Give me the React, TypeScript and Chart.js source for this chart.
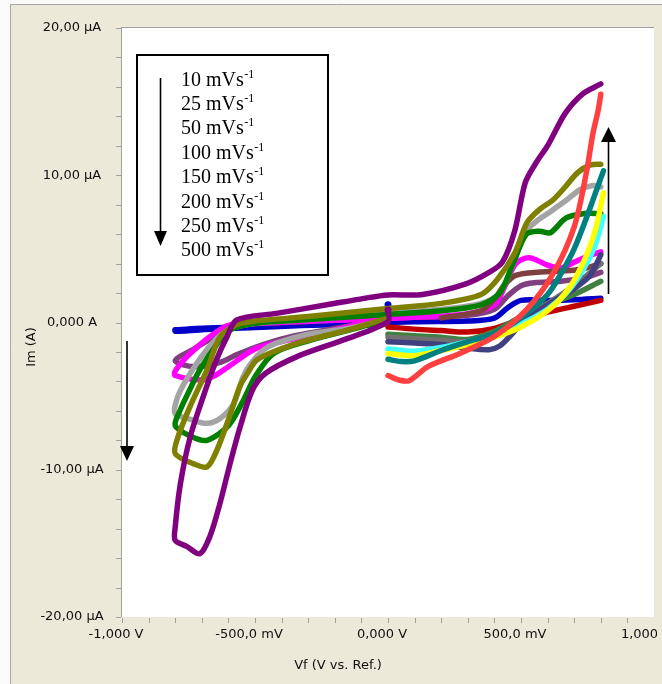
import React, { useEffect, useRef } from 'react';
import { Chart, registerables } from 'chart.js';
Chart.register(...registerables);

// ---- data (potential in V, current in µA) ----
const blueV = [0, 0, -0.2, -0.45, -0.65, -0.8, -0.8, -0.65, -0.45, -0.2, 0.1, 0.3, 0.4, 0.45, 0.5, 0.6, 0.7, 0.8];
const blueI = [1.2, 0.0, -0.15, -0.25, -0.35, -0.5, -0.6, -0.45, -0.3, -0.1, 0.05, 0.1, 0.3, 1.0, 1.5, 1.5, 1.55, 1.65];

const darkRedV = [0, 0.1, 0.2, 0.3, 0.4, 0.5, 0.6, 0.7, 0.8];
const darkRedI = [-0.3, -0.45, -0.55, -0.65, -0.4, 0.2, 0.7, 1.1, 1.5];

const magentaV = [0, -0.2, -0.4, -0.5, -0.6, -0.65, -0.7, -0.8, -0.8, -0.76, -0.7, -0.665, -0.6, -0.5, -0.2, 0.1, 0.3, 0.4, 0.44, 0.48, 0.53, 0.6, 0.65, 0.7, 0.75, 0.8];
const magentaI = [0.4, -0.5, -1.3, -1.8, -3.0, -3.6, -3.9, -3.6, -3.3, -2.4, -1.4, -0.9, -0.2, -0.05, 0.15, 0.35, 0.6, 1.2, 2.5, 4.0, 4.4, 3.9, 3.7, 4.1, 4.5, 4.8];

const mauveV = [0, -0.2, -0.35, -0.47, -0.57, -0.63, -0.73, -0.8, -0.73, -0.635, -0.55, -0.4, 0, 0.3, 0.4, 0.45, 0.5, 0.55, 0.65, 0.75, 0.8];
const mauveI = [0.2, -0.4, -0.9, -1.5, -2.2, -2.7, -3.0, -2.6, -1.8, -0.8, -0.2, 0.0, 0.3, 0.5, 0.9, 1.8, 2.5, 2.7, 2.8, 3.1, 3.4];

const brownV = [0.2, 0.35, 0.4, 0.44, 0.48, 0.55, 0.65, 0.72, 0.8];
const brownI = [0.3, 0.8, 1.6, 2.6, 3.2, 3.4, 3.5, 3.6, 4.0];

const greyV = [0, -0.15, -0.3, -0.42, -0.47, -0.52, -0.545, -0.58, -0.63, -0.68, -0.74, -0.8, -0.8, -0.78, -0.72, -0.66, -0.6, -0.5, -0.3, 0, 0.2, 0.35, 0.42, 0.47, 0.52, 0.56, 0.6, 0.67, 0.72, 0.77, 0.8];
const greyI = [0.2, -0.4, -0.8, -1.4, -1.9, -2.9, -3.7, -5.5, -6.5, -6.85, -6.6, -6.2, -5.6, -4.6, -2.8, -1.4, -0.5, -0.05, 0.2, 0.65, 0.9, 1.3, 2.0, 4.0, 6.2, 6.9, 7.4, 8.3, 9.0, 9.3, 9.2];

const greenV = [0, -0.1, -0.29, -0.43, -0.5, -0.544, -0.6, -0.68, -0.744, -0.8, -0.78, -0.757, -0.707, -0.632, -0.594, -0.5, -0.3, 0, 0.2, 0.35, 0.42, 0.47, 0.52, 0.57, 0.61, 0.67, 0.74, 0.8];
const greenI = [0.25, -0.3, -1.2, -2.1, -3.7, -5.3, -7.0, -8.0, -7.7, -7.0, -5.9, -5.0, -3.2, -1.2, -0.5, -0.05, 0.2, 0.55, 0.8, 1.2, 2.0, 4.0, 6.0, 6.2, 6.1, 7.1, 7.4, 7.4];

const oliveV = [0, -0.17, -0.34, -0.49, -0.53, -0.556, -0.6, -0.644, -0.68, -0.73, -0.8, -0.79, -0.744, -0.68, -0.632, -0.57, -0.5, -0.3, 0, 0.2, 0.35, 0.41, 0.476, 0.523, 0.571, 0.619, 0.666, 0.714, 0.762, 0.8];
const oliveI = [0.3, -0.6, -1.4, -2.5, -3.5, -4.3, -6.6, -8.7, -9.8, -9.6, -8.9, -7.8, -5.7, -3.2, -1.0, -0.15, 0.1, 0.4, 0.95, 1.3, 1.9, 2.9, 4.7, 6.8, 7.7, 8.3, 9.2, 10.2, 10.7, 10.75];

const purpleV = [0, 0, -0.17, -0.34, -0.46, -0.51, -0.556, -0.594, -0.632, -0.669, -0.707, -0.757, -0.8, -0.8, -0.78, -0.744, -0.694, -0.644, -0.606, -0.569, -0.42, -0.23, -0.09, 0, 0.13, 0.29, 0.38, 0.43, 0.476, 0.516, 0.555, 0.603, 0.666, 0.73, 0.8];
const purpleI = [0.85, 0.05, -1.2, -2.3, -3.45, -4.6, -7.1, -9.6, -12.3, -14.5, -15.7, -15.2, -14.8, -13.9, -10.9, -7.8, -5.0, -2.5, -1.0, 0.17, 0.62, 1.2, 1.64, 1.87, 1.9, 2.6, 3.4, 4.1, 6.2, 9.5, 10.8, 12.1, 14.2, 15.5, 16.2];

const darkGreenV = [0, 0.1, 0.2, 0.3, 0.4, 0.5, 0.6, 0.7, 0.8];
const darkGreenI = [-0.8, -0.9, -1.0, -1.15, -0.6, 0.4, 1.2, 1.9, 2.8];

const darkGreyV = [0, 0.1, 0.2, 0.3, 0.4, 0.5, 0.6, 0.7, 0.8];
const darkGreyI = [-1.0, -1.1, -1.2, -1.3, -0.9, 0.2, 1.3, 2.5, 4.0];

const navyV = [0, 0.1, 0.2, 0.3, 0.38, 0.42, 0.46, 0.5, 0.6, 0.7, 0.76, 0.8];
const navyI = [-1.3, -1.4, -1.5, -1.75, -1.85, -1.6, -0.9, -0.1, 1.2, 2.3, 3.2, 4.6];

const cyanV = [0, 0.05, 0.1, 0.2, 0.3, 0.4, 0.5, 0.6, 0.68, 0.74, 0.78, 0.81];
const cyanI = [-1.8, -1.9, -1.95, -1.7, -1.3, -0.8, -0.1, 0.9, 2.2, 3.8, 5.3, 7.2];

const yellowV = [0, 0.05, 0.1, 0.2, 0.3, 0.4, 0.5, 0.6, 0.68, 0.74, 0.78, 0.81];
const yellowI = [-2.1, -2.2, -2.25, -1.9, -1.5, -1.0, -0.3, 0.8, 2.3, 4.3, 6.3, 8.8];

const tealV = [0, 0.05, 0.1, 0.2, 0.3, 0.4, 0.5, 0.6, 0.65, 0.7, 0.75, 0.78, 0.81];
const tealI = [-2.5, -2.65, -2.6, -1.9, -1.3, -0.75, 0.3, 1.9, 3.3, 5.0, 7.3, 8.8, 10.3];

const salmonV = [0, 0.04, 0.08, 0.15, 0.27, 0.4, 0.52, 0.62, 0.7, 0.745, 0.77, 0.79, 0.8];
const salmonI = [-3.6, -3.9, -3.95, -3.0, -2.1, -0.95, 0.85, 3.3, 6.5, 10.1, 12.8, 14.4, 15.5];

const legendRates = ['10', '25', '50', '100', '150', '200', '250', '500'];
const legendUnit = ' mVs';
const legendSup = '-1';

const xTickValues = [-1, -0.5, 0, 0.5, 1];
const xTickLabels = ['-1,000 V', '-500,0 mV', '0,000 V', '500,0 mV', '1,000 V'];
const yTickValues = [20, 10, 0, -10, -20];
const yTickLabels = ['20,00 µA', '10,00 µA', '0,000 A', '-10,00 µA', '-20,00 µA'];
const xTitle = 'Vf (V vs. Ref.)';
const yTitle = 'Im (A)';

// z-order: bottom -> top
const series = [
  { v: blueV, i: blueI, color: '#0000C8', start: true },
  { v: darkRedV, i: darkRedI, color: '#C00000' },
  { v: mauveV, i: mauveI, color: '#804080' },
  { v: magentaV, i: magentaI, color: '#FF00FF' },
  { v: brownV, i: brownI, color: '#804040' },
  { v: greyV, i: greyI, color: '#A4A4A4' },
  { v: greenV, i: greenI, color: '#008000' },
  { v: oliveV, i: oliveI, color: '#808000' },
  { v: purpleV, i: purpleI, color: '#800080', start: true },
  { v: darkGreenV, i: darkGreenI, color: '#408040' },
  { v: darkGreyV, i: darkGreyI, color: '#707070' },
  { v: navyV, i: navyI, color: '#404080' },
  { v: cyanV, i: cyanI, color: '#40FFFF' },
  { v: yellowV, i: yellowI, color: '#FFFF00' },
  { v: tealV, i: tealI, color: '#008080' },
  { v: salmonV, i: salmonI, color: '#FF4040' },
];

const FONT = '"DejaVu Sans", Verdana, sans-serif';

const decorPlugin = {
  id: 'decor',
  beforeDraw(chart: any) {
    const { ctx, chartArea: a } = chart;
    const W = chart.width, H = chart.height;
    ctx.save();
    ctx.fillStyle = '#FAFAFA';
    ctx.fillRect(0, 0, W, H);
    ctx.fillStyle = '#ECE9D8';
    ctx.fillRect(11, 5, W - 11, H - 5);
    ctx.strokeStyle = '#A8A8A0';
    ctx.lineWidth = 1;
    ctx.beginPath();
    ctx.moveTo(10.5, 4.5); ctx.lineTo(W, 4.5);
    ctx.moveTo(10.5, 4.5); ctx.lineTo(10.5, H);
    ctx.stroke();
    ctx.fillStyle = '#FFFFFF';
    ctx.fillRect(a.left, a.top, a.right - a.left, a.bottom - a.top);
    ctx.strokeStyle = '#A0A0A0';
    ctx.beginPath();
    ctx.moveTo(a.left - 0.5, a.bottom); ctx.lineTo(a.left - 0.5, a.top - 0.5); ctx.lineTo(a.right, a.top - 0.5);
    ctx.stroke();
    ctx.restore();
  },
  afterDraw(chart: any) {
    const { ctx, chartArea: a } = chart;
    const xs = chart.scales.x, ys = chart.scales.y;
    ctx.save();
    // tick marks
    ctx.strokeStyle = '#A0A0A0';
    ctx.lineWidth = 1;
    ctx.beginPath();
    for (let k = -10; k <= 9; k++) {
      const px = Math.round(xs.getPixelForValue(k / 10)) + 0.5;
      ctx.moveTo(px, a.bottom + 1); ctx.lineTo(px, a.bottom + 6);
    }
    for (let k = -10; k <= 10; k++) {
      const py = Math.round(ys.getPixelForValue(k * 2)) + 0.5;
      ctx.moveTo(a.left - 6, py); ctx.lineTo(a.left - 1, py);
    }
    ctx.stroke();
    // tick labels
    ctx.fillStyle = '#101010';
    ctx.font = '13px ' + FONT;
    ctx.textAlign = 'center';
    ctx.textBaseline = 'middle';
    yTickValues.forEach((v, k) => {
      ctx.fillText(yTickLabels[k], 72, ys.getPixelForValue(v));
    });
    ctx.save();
    ctx.beginPath();
    ctx.rect(0, 0, 657, chart.height);
    ctx.clip();
    xTickValues.forEach((v, k) => {
      const off = k === xTickValues.length - 1 ? -8 : -6;
      ctx.fillText(xTickLabels[k], xs.getPixelForValue(v) + off, a.bottom + 18);
    });
    ctx.restore();
    // axis titles
    ctx.fillText(xTitle, 338, 666);
    ctx.save();
    ctx.translate(32, 347);
    ctx.rotate(-Math.PI / 2);
    ctx.fillText(yTitle, 0, 0);
    ctx.restore();

    // legend box
    ctx.fillStyle = '#FFFFFF';
    ctx.fillRect(137, 55, 191, 220);
    ctx.strokeStyle = '#000000';
    ctx.lineWidth = 2;
    ctx.strokeRect(137, 55, 191, 220);
    ctx.fillStyle = '#000000';
    ctx.textAlign = 'left';
    ctx.textBaseline = 'alphabetic';
    legendRates.forEach((r, k) => {
      const base = 85.5 + k * 24.4;
      ctx.font = '20px "Liberation Serif", "Times New Roman", serif';
      const txt = r + legendUnit;
      ctx.fillText(txt, 181, base);
      const w = ctx.measureText(txt).width;
      ctx.font = '12px "Liberation Serif", "Times New Roman", serif';
      ctx.fillText(legendSup, 181 + w + 0.5, base - 8);
    });

    // arrows
    const arrow = (x: number, y1: number, y2: number, hw: number, hl: number) => {
      const dir = y2 > y1 ? 1 : -1;
      ctx.strokeStyle = '#000';
      ctx.lineWidth = 1.6;
      ctx.beginPath();
      ctx.moveTo(x, y1); ctx.lineTo(x, y2 - dir * hl);
      ctx.stroke();
      ctx.fillStyle = '#000';
      ctx.beginPath();
      ctx.moveTo(x - hw, y2 - dir * hl);
      ctx.lineTo(x + hw, y2 - dir * hl);
      ctx.lineTo(x, y2);
      ctx.closePath();
      ctx.fill();
    };
    arrow(160.5, 78, 246, 6.5, 15);
    arrow(127, 341, 461, 7, 15);
    arrow(608.5, 294, 127, 7.5, 15);
    ctx.restore();
  },
};

export default function App() {
  const ref = useRef<HTMLCanvasElement | null>(null);
  useEffect(() => {
    if (!ref.current) return;
    const datasets = series
      .slice()
      .reverse()
      .map((s) => ({
        data: s.v.map((v, k) => ({ x: v, y: s.i[k] })),
        borderColor: s.color,
        backgroundColor: s.color,
        borderWidth: 5.5,
        pointRadius: s.v.map((_, k) => (s.start && k === 0 ? 3.5 : 0)),
        pointBorderWidth: 0,
        showLine: true,
        tension: 0.3,
        borderCapStyle: 'round',
        borderJoinStyle: 'round',
        fill: false,
      }));
    const chart = new Chart(ref.current, {
      type: 'scatter',
      data: { datasets },
      options: {
        animation: false,
        responsive: false,
        devicePixelRatio: 1,
        layout: { padding: { left: 122, right: 8, top: 28, bottom: 67 } },
        plugins: { legend: { display: false }, tooltip: { enabled: false } },
        scales: {
          x: { type: 'linear', min: -1, max: 1, display: false },
          y: { type: 'linear', min: -20, max: 20, display: false },
        },
      },
      plugins: [decorPlugin],
    } as any);
    return () => chart.destroy();
  }, []);
  return (
    <div style={{ position: 'absolute', left: 0, top: 0, width: 662, height: 684 }}>
      <canvas ref={ref} width={662} height={684} style={{ display: 'block', width: 662, height: 684 }} />
    </div>
  );
}
